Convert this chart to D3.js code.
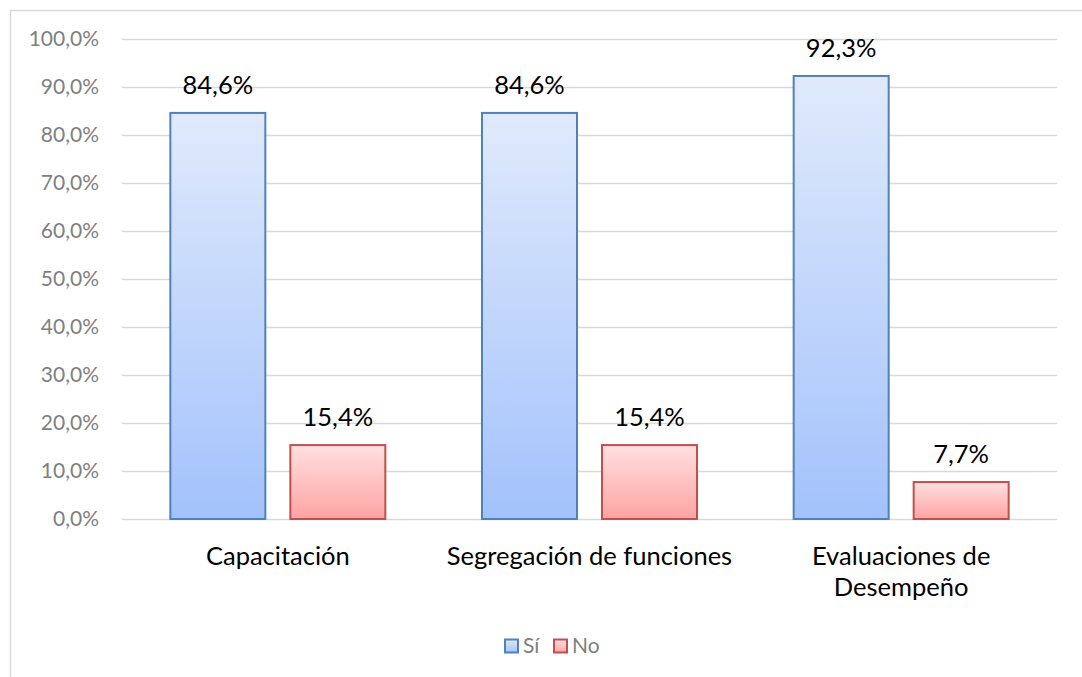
<!DOCTYPE html>
<html><head><meta charset="utf-8">
<script src="https://cdn.jsdelivr.net/npm/d3@7"></script>
<style>body{margin:0;background:#fff}svg{display:block}</style>
</head><body>
<svg id="c" width="1082" height="677"></svg>
<script>
const categories = [["Capacitación"], ["Segregación de funciones"], ["Evaluaciones de", "Desempeño"]];
const seriesNames = ["Sí", "No"];
const si = [84.6, 84.6, 92.3];
const no = [15.4, 15.4, 7.7];
const valueLabels = [["84,6%", "15,4%"], ["84,6%", "15,4%"], ["92,3%", "7,7%"]];
const yTicks = [0, 10, 20, 30, 40, 50, 60, 70, 80, 90, 100];

(function () {
const svg = d3.select("#c");
const font = "Lato, 'Open Sans', sans-serif";
const defs = svg.append("defs");
const gb = defs.append("linearGradient").attr("id", "gb").attr("x1", 0).attr("y1", 0).attr("x2", 0).attr("y2", 1);
gb.append("stop").attr("offset", "0%").attr("stop-color", "#e0eafb");
gb.append("stop").attr("offset", "100%").attr("stop-color", "#a3c2fb");
const gr = defs.append("linearGradient").attr("id", "gr").attr("x1", 0).attr("y1", 0).attr("x2", 0).attr("y2", 1);
gr.append("stop").attr("offset", "0%").attr("stop-color", "#ffe0e0");
gr.append("stop").attr("offset", "100%").attr("stop-color", "#ffa3a3");

// chart border
svg.append("path").attr("d", "M10.5,690 V10.5 H1090").attr("fill", "none").attr("stroke", "#d9d9d9").attr("stroke-width", 1.5);

const mLeft = 122, mRight = 1057, mTop = 39, mBottom = 519;
const y = d3.scaleLinear().domain([0, 100]).range([mBottom, mTop]);
const x0 = d3.scaleBand().domain(d3.range(categories.length)).range([mLeft, mRight]).paddingInner(0.307).paddingOuter(0.1535);
const x1 = d3.scaleBand().domain(seriesNames).range([0, x0.bandwidth()]).paddingInner(0.2).paddingOuter(0);

// grid
svg.append("g").selectAll("line").data(yTicks).join("line")
  .attr("x1", mLeft).attr("x2", mRight)
  .attr("y1", d => Math.round(y(d)) + 0.5).attr("y2", d => Math.round(y(d)) + 0.5)
  .attr("stroke", "#d9d9d9").attr("stroke-width", 1.5);

// y tick labels
svg.append("g").selectAll("text").data(yTicks).join("text")
  .attr("x", 99).attr("y", d => y(d)).attr("dy", "0.35em")
  .attr("text-anchor", "end").attr("font-family", font).attr("font-size", 21).attr("fill", "#7f7f7f")
  .text(d => d.toFixed(1).replace(".", ",") + "%");

const data = categories.map((c, i) => ({ i, vals: [{ s: "Sí", v: si[i], lab: valueLabels[i][0] }, { s: "No", v: no[i], lab: valueLabels[i][1] }] }));
const g = svg.append("g").selectAll("g").data(data).join("g").attr("transform", d => `translate(${x0(d.i)},0)`);
g.selectAll("rect").data(d => d.vals).join("rect")
  .attr("x", d => x1(d.s) + 0.5).attr("width", x1.bandwidth() - 1)
  .attr("y", d => y(d.v)).attr("height", d => y(0) - y(d.v))
  .attr("fill", d => d.s === "Sí" ? "url(#gb)" : "url(#gr)")
  .attr("stroke", d => d.s === "Sí" ? "#4f81bd" : "#c0504d").attr("stroke-width", 2);
g.selectAll("text.v").data(d => d.vals).join("text").attr("class", "v")
  .attr("x", d => x1(d.s) + x1.bandwidth() / 2).attr("y", d => y(d.v) - 19)
  .attr("text-anchor", "middle").attr("font-family", font).attr("font-size", 25.5).attr("fill", "#000")
  .text(d => d.lab);

// category labels
const cl = svg.append("g").selectAll("text").data(categories.map((c, i) => ({ c, i }))).join("text")
  .attr("text-anchor", "middle").attr("font-family", font).attr("font-size", 25.5).attr("fill", "#000");
cl.each(function (d) {
  const t = d3.select(this);
  d.c.forEach((line, k) => {
    t.append("tspan").attr("x", x0(d.i) + x0.bandwidth() / 2)
      .attr("y", 565 + k * 31).text(line);
  });
});

// legend
const legend = [{ s: "Sí", x: 505, fill: "url(#gb)", stroke: "#4f81bd" }, { s: "No", x: 554, fill: "url(#gr)", stroke: "#c0504d" }];
const lg = svg.append("g").selectAll("g").data(legend).join("g");
lg.append("rect").attr("x", d => d.x).attr("y", 639.5).attr("width", 13).attr("height", 13)
  .attr("fill", d => d.fill).attr("stroke", d => d.stroke).attr("stroke-width", 2);
lg.append("text").attr("x", d => d.x + 18).attr("y", 646).attr("dy", "0.35em")
  .attr("font-family", font).attr("font-size", 21).attr("fill", "#7f7f7f").text(d => d.s);
})();
</script>
</body></html>
